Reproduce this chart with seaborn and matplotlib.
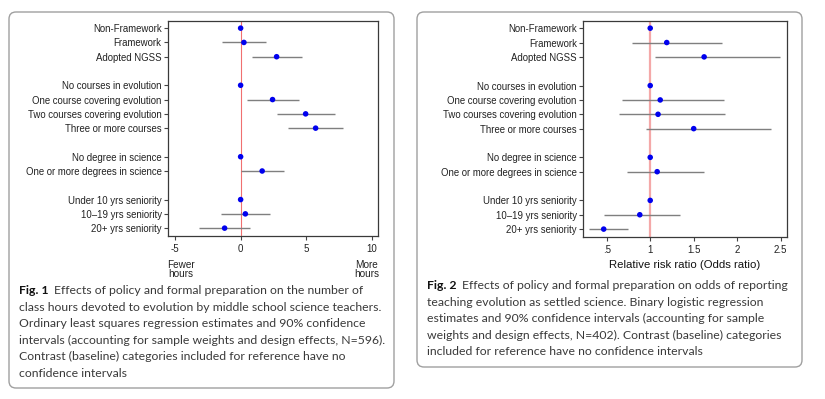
import numpy as np
import pandas as pd
import matplotlib
matplotlib.use("Agg")
import matplotlib.pyplot as plt
from matplotlib.patches import FancyBboxPatch
import seaborn as sns

labels = ["Non-Framework", "Framework", "Adopted NGSS",
          "No courses in evolution", "One course covering evolution",
          "Two courses covering evolution", "Three or more courses",
          "No degree in science", "One or more degrees in science",
          "Under 10 yrs seniority", "10\u201319 yrs seniority", "20+ yrs seniority"]
slots = [0, 1, 2, 4, 5, 6, 7, 9, 10, 12, 13, 14]

# Fig. 1 - OLS estimates (class hours)
hrs_est = [0, 0.25, 2.74, 0, 2.43, 4.95, 5.71, 0, 1.64, 0, 0.36, -1.22]
hrs_lo = [np.nan, -1.42, 0.86, np.nan, 0.46, 2.77, 3.63, np.nan, 0.0, np.nan, -1.47, -3.14]
hrs_hi = [np.nan, 1.95, 4.64, np.nan, 4.44, 7.16, 7.79, np.nan, 3.30, np.nan, 2.20, 0.74]

# Fig. 2 - odds ratios
or_est = [1, 1.19, 1.62, 1, 1.115, 1.09, 1.50, 1, 1.08, 1, 0.88, 0.465]
or_lo = [np.nan, 0.79, 1.05, np.nan, 0.67, 0.64, 0.95, np.nan, 0.73, np.nan, 0.47, 0.30]
or_hi = [np.nan, 1.82, 2.49, np.nan, 1.85, 1.86, 2.39, np.nan, 1.62, np.nan, 1.34, 0.74]

W, H = 825, 399
sns.set_style("white")
plt.rcParams["font.family"] = ["Liberation Sans", "DejaVu Sans"]

fig = plt.figure(figsize=(W / 100, H / 100), dpi=100)


def px_axes(x0, x1, y0, y1):
    return fig.add_axes([x0 / W, 1 - y1 / H, (x1 - x0) / W, (y1 - y0) / H])


def draw_panel(ax, est, lo, hi, ref, ref_color, ref_lw):
    df = pd.DataFrame({"pos": slots, "est": est, "lo": lo, "hi": hi})
    ax.axvline(ref, color=ref_color, lw=ref_lw, zorder=1)
    ci = df.dropna()
    ax.hlines(ci["pos"], ci["lo"], ci["hi"], color="#7f7f7f", lw=1.0, zorder=2)
    sns.scatterplot(data=df, x="est", y="pos", ax=ax, color="#0000ee",
                    s=16, edgecolor="none", zorder=3)
    ax.set_ylim(14.55, -0.5)
    ax.set_yticks(slots)
    ax.set_yticklabels(labels, fontsize=6.9, color="#222222")
    ax.set_xlabel("")
    ax.set_ylabel("")
    ax.tick_params(axis="both", length=3, width=0.8, color="#444444",
                   left=True, bottom=True, pad=1.5)
    ax.tick_params(axis="x", labelsize=7, labelcolor="#222222", pad=2.5)
    for s in ax.spines.values():
        s.set_color("#3a3a3a")
        s.set_linewidth(0.9)


ax1 = px_axes(168, 378, 21, 236)
draw_panel(ax1, hrs_est, hrs_lo, hrs_hi, 0, "#f07070", 0.8)
ax1.set_xlim(-5.53, 10.46)
ax1.set_xticks([-5, 0, 5, 10])
ax1.set_xticklabels(["-5", "0", "5", "10"])

ax2 = px_axes(583, 787, 21, 237)
draw_panel(ax2, or_est, or_lo, or_hi, 1, "#f4a8a8", 1.6)
ax2.set_xlim(0.227, 2.573)
ax2.set_xticks([0.5, 1, 1.5, 2, 2.5])
ax2.set_xticklabels([".5", "1", "1.5", "2", "2.5"])


def ptext(x, y, s, **kw):
    return fig.text(x / W, 1 - y / H, s, **kw)


ptext(181, 269.5, "Fewer\nhours", ha="center", va="center", fontsize=7.2,
      color="#222222", linespacing=0.95)
ptext(367, 269.5, "More\nhours", ha="center", va="center", fontsize=7.2,
      color="#222222", linespacing=0.95)
ptext(685, 265, "Relative risk ratio (Odds ratio)", ha="center", va="center",
      fontsize=8.2, color="#111111")

# boxes
for (bx0, by0, bx1, by1) in [(9, 12, 394, 388), (417, 12, 802, 367)]:
    fig.patches.append(FancyBboxPatch(
        (bx0 / 100, (H - by1) / 100), (bx1 - bx0) / 100, (by1 - by0) / 100,
        boxstyle="round,pad=0,rounding_size=0.07", transform=fig.dpi_scale_trans,
        facecolor="none", edgecolor="#a0a0a0", lw=1.0, zorder=0))

cap_font = ["Lato", "DejaVu Sans"]
cap1 = ["Effects of policy and formal preparation on the number of",
        "class hours devoted to evolution by middle school science teachers.",
        "Ordinary least squares regression estimates and 90% confidence",
        "intervals (accounting for sample weights and design effects, N=596).",
        "Contrast (baseline) categories included for reference have no",
        "confidence intervals"]
cap2 = ["Effects of policy and formal preparation on odds of reporting",
        "teaching evolution as settled science. Binary logistic regression",
        "estimates and 90% confidence intervals (accounting for sample",
        "weights and design effects, N=402). Contrast (baseline) categories",
        "included for reference have no confidence intervals"]

renderer = fig.canvas.get_renderer()


def caption(x, y0, step, fig_label, lines, size):
    t = ptext(x, y0, fig_label, ha="left", va="baseline", fontsize=size,
              fontweight="bold", family=cap_font, color="#111111")
    bb = t.get_window_extent(renderer)
    for i, line in enumerate(lines):
        lx = bb.x1 + 5 if i == 0 else x
        ptext(lx, y0 + i * step, line, ha="left", va="baseline", fontsize=size,
              family=cap_font, color="#3a3a3a")


caption(19, 294, 16.6, "Fig. 1", cap1, 8.85)
caption(427, 289.3, 16.5, "Fig. 2", cap2, 8.85)

fig.savefig("out.png", dpi=100)
